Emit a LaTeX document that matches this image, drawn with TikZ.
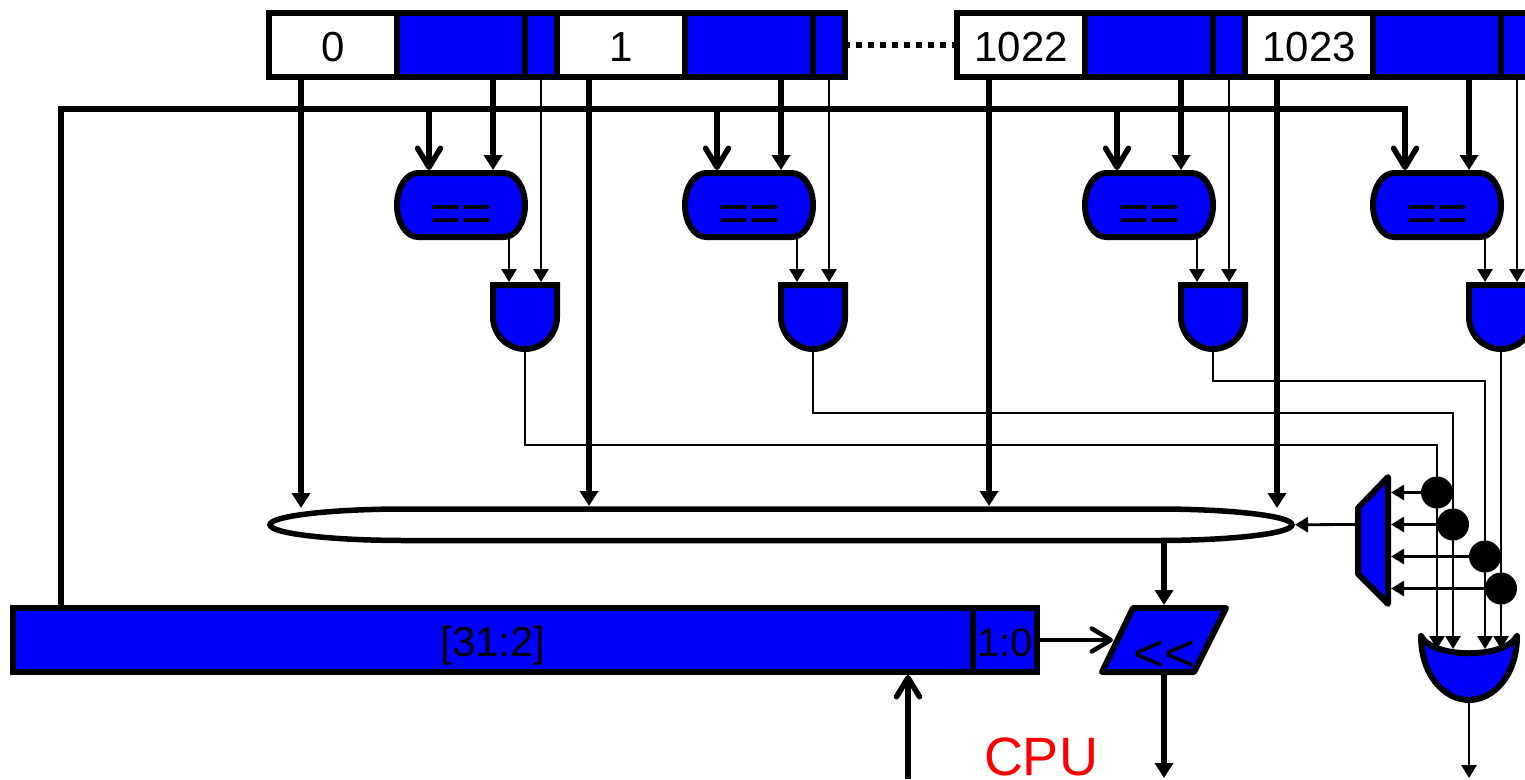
\documentclass[tikz,border=0pt]{standalone}
\usepackage{fontspec}
\setmainfont{Liberation Sans}
\usetikzlibrary{arrows.meta, positioning}

\begin{document}
\begin{tikzpicture}[
    x=1pt, y=-1pt,
    cell/.style={rectangle, draw, line width=6pt, inner sep=0pt, outer sep=0pt,
                 minimum height=64pt, text height=33pt, text depth=0pt,
                 font=\fontsize{42}{50}\selectfont},
    idx/.style={cell, minimum width=128pt, fill=white},
    tagcell/.style={cell, minimum width=128pt, fill=blue},
    vld/.style={cell, minimum width=32pt, fill=blue},
    gatebase/.style={inner sep=0pt, outer sep=0pt, font=\fontsize{53}{64}\selectfont},
    gateline/.style={draw=black, fill=blue, line width=6pt, line join=round},
    cmp/.style={gatebase, minimum width=128pt, minimum height=64pt, text height=52pt, text depth=0pt,
      append after command={\pgfextra{\draw[gateline]
        ([xshift=21pt]\tikzlastnode.north west) -- ([xshift=-21pt]\tikzlastnode.north east)
        arc[start angle=90, end angle=-90, x radius=21pt, y radius=32pt]
        -- ([xshift=21pt]\tikzlastnode.south west)
        arc[start angle=270, end angle=90, x radius=21pt, y radius=32pt] -- cycle;}}},
    andgate/.style={gatebase, minimum width=64pt, minimum height=64pt,
      append after command={\pgfextra{\draw[gateline, line join=miter]
        (\tikzlastnode.north west) -- (\tikzlastnode.north east) -- (\tikzlastnode.east)
        arc[start angle=0, end angle=-180, radius=32pt] -- cycle;}}},
    orgate/.style={gatebase, minimum width=96pt, minimum height=64pt,
      append after command={\pgfextra{\draw[gateline]
        (\tikzlastnode.north west) .. controls +(0pt,-40pt) and +(-24pt,0pt) .. (\tikzlastnode.south)
        .. controls +(24pt,0pt) and +(0pt,-40pt) .. (\tikzlastnode.north east)
        .. controls +(-12pt,-23pt) and +(12pt,-23pt) .. (\tikzlastnode.north west) -- cycle;}}},
    muxgate/.style={gatebase, minimum width=30pt, minimum height=127pt,
      append after command={\pgfextra{\draw[gateline]
        (\tikzlastnode.north east) -- (\tikzlastnode.south east)
        -- ([yshift=30pt]\tikzlastnode.south west)
        -- ([yshift=-31pt]\tikzlastnode.north west) -- cycle;}}},
    shiftgate/.style={gatebase, minimum width=124pt, minimum height=64pt, text height=63pt, text depth=0pt,
      append after command={\pgfextra{\draw[gateline]
        ([xshift=31pt]\tikzlastnode.north west) -- (\tikzlastnode.north east)
        -- ([xshift=-32pt]\tikzlastnode.south east) -- (\tikzlastnode.south west) -- cycle;}}},
    dot/.style={circle, fill=black, inner sep=0pt, minimum size=32pt},
    busline/.style={gatebase, minimum width=1022pt, minimum height=31.5pt,
      append after command={\pgfextra{\draw[draw=black, fill=white, line width=5.5pt]
        ([xshift=135pt]\tikzlastnode.north west) -- ([xshift=-135pt]\tikzlastnode.north east)
        arc[start angle=90, end angle=-90, x radius=135pt, y radius=15.75pt]
        -- ([xshift=135pt]\tikzlastnode.south west)
        arc[start angle=270, end angle=90, x radius=135pt, y radius=15.75pt] -- cycle;}}},
    arr/.style={-{Triangle[length=15pt, width=18pt]}, line width=5.5pt, shorten >=3pt},
    barb/.style={-{Straight Barb[length=19pt, width=23pt, round]}, line width=5.5pt, shorten >=3pt},
    thinarr/.style={-{Triangle[length=13pt, width=15pt]}, line width=2.8pt, shorten >=3pt}
]
  \useasboundingbox (0,0) rectangle (1525,779);
  \clip (0,0) rectangle (1525,779);

  \node[idx, anchor=west] at (269,45) (idxA) {0};
  \node[tagcell, right=0pt of idxA] (tagA) {};
  \node[vld, right=0pt of tagA] (vldA) {};
  \node[idx, right=0pt of vldA] (idxB) {1};
  \node[tagcell, right=0pt of idxB] (tagB) {};
  \node[vld, right=0pt of tagB] (vldB) {};
  \node[idx, anchor=west] at (957,45) (idxC) {1022};
  \node[tagcell, right=0pt of idxC] (tagC) {};
  \node[vld, right=0pt of tagC] (vldC) {};
  \node[idx, right=0pt of vldC] (idxD) {1023};
  \node[tagcell, right=0pt of idxD] (tagD) {};
  \node[vld, right=0pt of tagD] (vldD) {};
  \draw[line width=6pt, dash pattern=on 6pt off 6pt, dash phase=1pt] (vldB.east) -- (idxC.west);

  \node[cmp, below=96pt of tagA] (cmpA) {==};
  \node[cmp, below=96pt of tagB] (cmpB) {==};
  \node[cmp, below=96pt of tagC] (cmpC) {==};
  \node[cmp, below=96pt of tagD] (cmpD) {==};
  \node[andgate, below=48pt of cmpA.south east] (andA) {};
  \node[andgate, below=48pt of cmpB.south east] (andB) {};
  \node[andgate, below=48pt of cmpC.south east] (andC) {};
  \node[andgate, below=48pt of cmpD.south east] (andD) {};

  \node[busline] at (781,524.75) (databus) {};
  \node[muxgate] at (1373,540.5) (mux) {};
  \node[dot] at (1437,492.5) (dotA) {};
  \node[dot] at (1453,524.5) (dotB) {};
  \node[dot] at (1485,556.5) (dotC) {};
  \node[dot] at (1501,588.5) (dotD) {};
  \node[orgate] at (1469,668) (hit) {};

  \node[cell, fill=blue, minimum width=960pt, anchor=west] at (13,640) (regtag) {[31:2]};
  \node[cell, fill=blue, minimum width=64pt, font=\fontsize{40}{48}\selectfont, right=0pt of regtag] (regoff) {1:0};
  \node[shiftgate] at (1164,640) (shifter) {<{}<};
  \node[text=red, inner sep=0pt, font=\fontsize{54}{64}\selectfont] at (1041,757) (cpu) {CPU};

  \coordinate (tagturn) at (61,109);
  \coordinate (orin) at (1469,652);
  \coordinate (cpuin) at (908,779);
  \coordinate (hitout) at (1469,781);
  \coordinate (dataout) at (1164,781);

  \draw[barb] (tagturn |- regtag.north) -- (tagturn) -- ([xshift=-32pt]cmpD.north |- tagturn) -- ([xshift=-32pt]cmpD.north);
  \draw[barb] ([xshift=-32pt]cmpA.north |- tagturn) -- ([xshift=-32pt]cmpA.north);
  \draw[barb] ([xshift=-32pt]cmpB.north |- tagturn) -- ([xshift=-32pt]cmpB.north);
  \draw[barb] ([xshift=-32pt]cmpC.north |- tagturn) -- ([xshift=-32pt]cmpC.north);
  \draw[arr] ([xshift=32pt]tagA.south) -- ([xshift=32pt]cmpA.north);
  \draw[arr] ([xshift=32pt]tagB.south) -- ([xshift=32pt]cmpB.north);
  \draw[arr] ([xshift=32pt]tagC.south) -- ([xshift=32pt]cmpC.north);
  \draw[arr] ([xshift=32pt]tagD.south) -- ([xshift=32pt]cmpD.north);

  \draw[thinarr] (vldA.south) -- ([xshift=16pt]andA.north);
  \draw[thinarr] (vldB.south) -- ([xshift=16pt]andB.north);
  \draw[thinarr] (vldC.south) -- ([xshift=16pt]andC.north);
  \draw[thinarr] (vldD.south) -- ([xshift=16pt]andD.north);
  \draw[thinarr] ([xshift=48pt]cmpA.south) -- ([xshift=-16pt]andA.north);
  \draw[thinarr] ([xshift=48pt]cmpB.south) -- ([xshift=-16pt]andB.north);
  \draw[thinarr] ([xshift=48pt]cmpC.south) -- ([xshift=-16pt]andC.north);
  \draw[thinarr] ([xshift=48pt]cmpD.south) -- ([xshift=-16pt]andD.north);

  \draw[arr, shorten >=1pt] ([xshift=-32pt]idxA.south) -- ([xshift=-32pt]idxA.south |- databus.north);
  \draw[arr] ([xshift=-32pt]idxB.south) -- ([xshift=-32pt]idxB.south |- databus.north);
  \draw[arr] ([xshift=-32pt]idxC.south) -- ([xshift=-32pt]idxC.south |- databus.north);
  \draw[arr, shorten >=1pt] ([xshift=-32pt]idxD.south) -- ([xshift=-32pt]idxD.south |- databus.north);

  \draw[thinarr] (andA.south) -- ++(0,96) -| (orin -| dotA);
  \draw[thinarr] (andB.south) -- ++(0,64) -| (orin -| dotB);
  \draw[thinarr] (andC.south) -- ++(0,32) -| (orin -| dotC);
  \draw[thinarr] (andD.south) -- (orin -| dotD);
  \draw[thinarr] (dotA.center) -- ([yshift=48pt]mux.east);
  \draw[thinarr] (dotB.center) -- ([yshift=16pt]mux.east);
  \draw[thinarr] (dotC.center) -- ([yshift=-16pt]mux.east);
  \draw[thinarr] (dotD.center) -- ([yshift=-48pt]mux.east);
  \draw[thinarr] ([yshift=16pt]mux.west) -- (databus.east);
  \draw[thinarr] (hit.south) -- (hitout);

  \draw[arr] (shifter.north |- databus.south) -- (shifter.north);
  \draw[arr] (shifter.south) -- (dataout);
  \draw[barb, line width=4.5pt] (regoff.east) -- ([xshift=14pt]shifter.west);
  \draw[barb] (cpuin) -- (cpuin |- regtag.south);
\end{tikzpicture}
\end{document}
